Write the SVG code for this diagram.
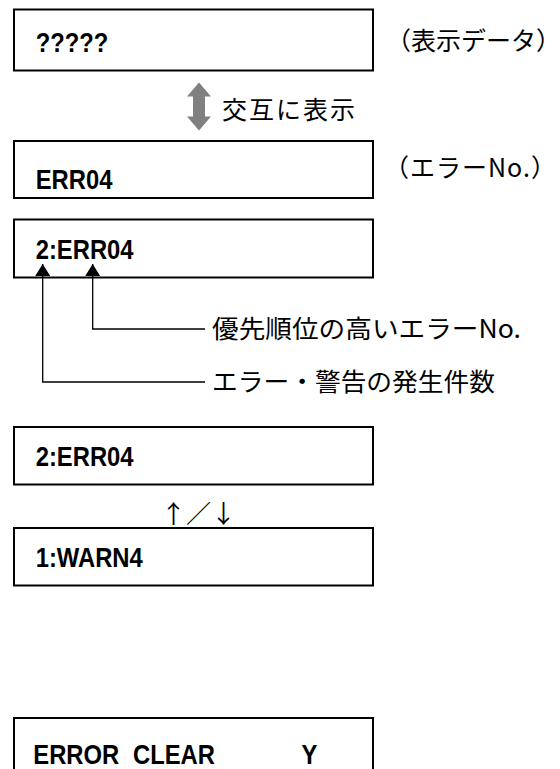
<svg xmlns="http://www.w3.org/2000/svg" width="560" height="769" viewBox="0 0 560 769">
<style>
.box{fill:#fff;stroke:#000;stroke-width:2}
.lcd{font-family:"Liberation Sans",Arial,sans-serif;font-weight:bold;font-size:28px;fill:#000}
.jp{font-family:"Noto Sans CJK JP","Noto Sans CJK SC",sans-serif;font-size:25px;fill:#000}
.conn{fill:none;stroke:#000;stroke-width:1.3}
</style>
<defs>
<marker id="tri" viewBox="0 0 12 15" refX="12" refY="7.5" markerWidth="12" markerHeight="15" markerUnits="userSpaceOnUse" orient="auto">
<path d="M0,0 L12,7.5 L0,15 Z" fill="#000"/>
</marker>
</defs>
<rect width="560" height="769" fill="#fff"/>

<g id="box-data">
<rect class="box" x="14" y="9.5" width="359" height="61"/>
<text class="lcd" transform="translate(35.7,52) scale(0.85 1)">?????</text>
</g>
<g id="label-data">
<text class="jp" x="386" y="50" font-size="24">（表示データ）</text>
</g>

<g id="alternate">
<path d="M199,82.5 L211,96.5 L205,96.5 L205,116.5 L211,116.5 L199,130.5 L187,116.5 L193,116.5 L193,96.5 L187,96.5 Z" fill="#808080"/>
<text class="jp" x="222" y="118.5" letter-spacing="2">交互に表示</text>
</g>

<g id="box-err">
<rect class="box" x="14" y="141" width="359" height="57"/>
<text class="lcd" transform="translate(35.7,189) scale(0.85 1)">ERR04</text>
</g>
<g id="label-err">
<text class="jp" x="384" y="177" font-size="24" letter-spacing="1">（エラーNo.）</text>
</g>

<g id="box-count">
<rect class="box" x="14" y="219.5" width="359" height="58"/>
<text class="lcd" transform="translate(35.7,259.3) scale(0.85 1)">2:ERR04</text>
</g>

<g id="connectors">
<path class="conn" d="M205,329 H92.7 V264" marker-end="url(#tri)"/>
<path class="conn" d="M205,382 H42.7 V264" marker-end="url(#tri)"/>
</g>

<g id="label-priority">
<text class="jp" x="212" y="338" textLength="309" lengthAdjust="spacingAndGlyphs">優先順位の高いエラーNo.</text>
</g>
<g id="label-count">
<text class="jp" x="212" y="391" textLength="283" lengthAdjust="spacingAndGlyphs">エラー・警告の発生件数</text>
</g>

<g id="box-err2">
<rect class="box" x="14" y="427" width="359" height="57.5"/>
<text class="lcd" transform="translate(35.7,465.5) scale(0.85 1)">2:ERR04</text>
</g>
<g id="updown">
<text class="jp" x="161" y="523" font-size="21">↑／↓</text>
</g>
<g id="box-warn">
<rect class="box" x="14" y="528" width="359" height="57.5"/>
<text class="lcd" transform="translate(35.7,567.3) scale(0.85 1)">1:WARN4</text>
</g>

<g id="box-clear">
<rect class="box" x="14" y="718" width="359" height="60"/>
<text class="lcd" transform="translate(33.3,764) scale(0.85 1)"><tspan x="0">ERROR</tspan><tspan x="117.3">CLEAR</tspan><tspan x="315.6">Y</tspan></text>
</g>
</svg>
